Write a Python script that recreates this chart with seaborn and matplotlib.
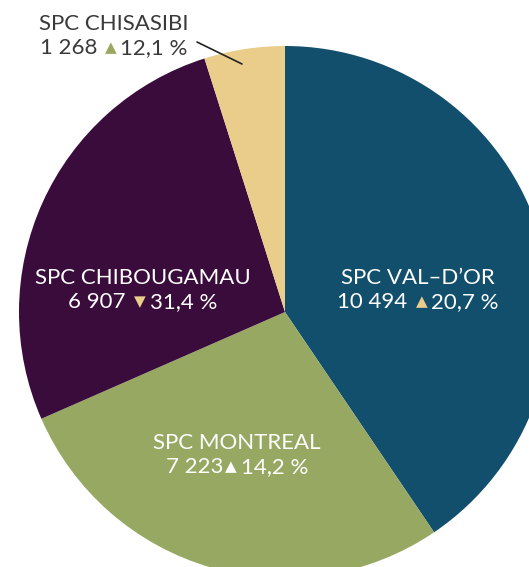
import matplotlib
matplotlib.use('Agg')
import matplotlib.pyplot as plt
import seaborn as sns
from matplotlib.offsetbox import TextArea, HPacker, VPacker, AnnotationBbox


SITES = ['SPC VAL–D’OR', 'SPC MONTREAL', 'SPC CHIBOUGAMAU', 'SPC CHISASIBI']
COUNTS = [10494, 7223, 6907, 1268]
CHANGES = [20.7, 14.2, -31.4, 12.1]

COLORS = ['#124f6c', '#97a862', '#3a0c3c', '#ebcd8b']
TEXT_COLORS = ['white', 'white', 'white', '#3a3a3a']
ARROW_COLORS = ['#ebcd8b', 'white', '#ebcd8b', '#97a862']

# label anchor (pixels, from top-left) and gap before the arrow
LABEL_POS = [(418, 290), (237, 455), (143, 290), (114, 36)]
ARROW_GAP = [6, 1, 6, 5]

FAMILY = ['Lato', 'DejaVu Sans']


def fmt_count(n):
    return f'{n:,}'.replace(',', ' ')


def fmt_change(c):
    return f'{abs(c):.1f}'.replace('.', ',') + ' %'


def _label(ax, i, W, H):
    props = dict(color=TEXT_COLORS[i], fontsize=16, family=FAMILY, fontweight='normal')
    arrow = '▲' if CHANGES[i] >= 0 else '▼'
    top = TextArea(SITES[i], textprops=props)
    change = HPacker(children=[
        TextArea(arrow, textprops=dict(color=ARROW_COLORS[i], fontsize=11, family=['DejaVu Sans'])),
        TextArea(fmt_change(CHANGES[i]), textprops=props),
    ], align='center', pad=0, sep=3)
    line2 = HPacker(children=[
        TextArea(fmt_count(COUNTS[i]), textprops=props),
        change,
    ], align='center', pad=0, sep=ARROW_GAP[i])
    box = VPacker(children=[top, line2], align='center', pad=0, sep=3)
    x, y = LABEL_POS[i]
    ab = AnnotationBbox(box, (x, H - y), frameon=False, box_alignment=(0.5, 0.5))
    ax.add_artist(ab)


def main():
    sns.set_theme(style='white')
    plt.rcParams['font.family'] = FAMILY

    W, H = 529, 567
    fig = plt.figure(figsize=(W / 100, H / 100), dpi=100)
    ax = fig.add_axes([0, 0, 1, 1])

    ax.pie(
        COUNTS,
        colors=sns.color_palette(COLORS),
        startangle=90,
        counterclock=False,
        center=(285, H - 312),
        radius=266,
        frame=True,
        wedgeprops=dict(linewidth=0),
    )

    ax.set_xlim(0, W)
    ax.set_ylim(0, H)
    ax.set_aspect('equal')
    ax.axis('off')

    # leader line for the small slice
    ax.plot([197, 242], [H - 42, H - 64], color='#222222', linewidth=1.2)

    for i in range(len(SITES)):
        _label(ax, i, W, H)

    fig.savefig('out.png', dpi=100)
    plt.close(fig)


if __name__ == '__main__':
    main()
